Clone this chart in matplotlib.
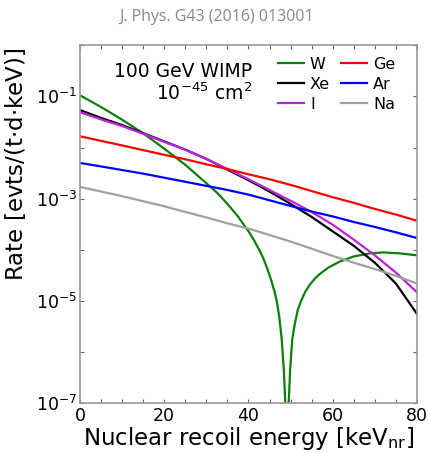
import math
import matplotlib
matplotlib.use("Agg")
import matplotlib.pyplot as plt
from matplotlib.ticker import FixedLocator, MultipleLocator, FuncFormatter

# recoil energies [keV_nr]
energy = [0, 5, 10, 15, 20, 25, 30, 35, 40, 45, 50, 55, 60, 65, 70, 75, 80]

# rates [evts/(t d keV)]
rate_xe = [5.4e-2, 3.8e-2, 2.75e-2, 1.91e-2, 1.32e-2, 9.1e-3, 6.0e-3, 3.7e-3, 2.3e-3,
           1.38e-3, 7.9e-4, 4.4e-4, 2.3e-4, 1.2e-4, 5.6e-5, 2.2e-5, 5.6e-6]
rate_i = [4.9e-2, 3.55e-2, 2.63e-2, 1.86e-2, 1.29e-2, 9.1e-3, 6.0e-3, 3.8e-3, 2.4e-3,
          1.48e-3, 9.1e-4, 5.5e-4, 3.1e-4, 1.58e-4, 7.8e-5, 3.6e-5, 1.48e-5]
rate_ge = [1.66e-2, 1.35e-2, 1.10e-2, 8.9e-3, 7.2e-3, 5.9e-3, 4.7e-3, 3.8e-3, 3.0e-3,
           2.4e-3, 1.86e-3, 1.41e-3, 1.07e-3, 8.3e-4, 6.3e-4, 4.9e-4, 3.7e-4]
rate_ar = [5.0e-3, 4.27e-3, 3.63e-3, 3.09e-3, 2.57e-3, 2.14e-3, 1.78e-3, 1.48e-3, 1.20e-3,
           9.3e-4, 7.2e-4, 5.6e-4, 4.5e-4, 3.5e-4, 2.8e-4, 2.2e-4, 1.7e-4]
rate_na = [1.70e-3, 1.38e-3, 1.12e-3, 8.9e-4, 7.1e-4, 5.5e-4, 4.3e-4, 3.3e-4, 2.6e-4,
           1.95e-4, 1.45e-4, 1.05e-4, 7.6e-5, 5.6e-5, 4.2e-5, 3.1e-5, 2.2e-5]

# tungsten has a form factor zero near 49 keV, so it gets its own finer grid
energy_w = [0, 5, 10, 15, 20, 25, 30, 32.5, 35, 37.5, 40, 41.25, 42.5, 43.5, 44.5, 45.5,
            46.2, 46.7, 47.3, 47.9, 48.4, 48.8, 49.15, 49.5, 49.9, 50.4, 51.0, 51.7, 52.6,
            53.5, 54.6, 55.8, 57, 59, 61.7, 65, 68.8, 72, 76, 80]
rate_w = [1.05e-1, 6.2e-2, 3.5e-2, 1.9e-2, 9.5e-3, 4.6e-3, 2.0e-3, 1.32e-3, 7.9e-4,
          4.5e-4, 2.3e-4, 1.58e-4, 1.02e-4, 6.9e-5, 4.2e-5, 2.4e-5, 1.51e-5, 1.02e-5,
          5.0e-6, 1.78e-6, 4.5e-7, 8.0e-8, 1e-9, 8.0e-8, 4.5e-7, 1.78e-6, 3.5e-6, 6.6e-6,
          1.05e-5, 1.51e-5, 2.1e-5, 2.75e-5, 3.4e-5, 4.5e-5, 5.9e-5, 7.4e-5, 8.5e-5,
          8.9e-5, 8.5e-5, 7.8e-5]

fig = plt.figure(figsize=(4.28, 4.53), dpi=100)
ax = fig.add_axes([0.187, 0.110, 0.787, 0.790])

lw = 1.6
ax.plot(energy_w, rate_w, color='#0a800a', lw=lw, label='W')
ax.plot(energy, rate_xe, color='black', lw=lw, label='Xe')
ax.plot(energy, rate_i, color='#c020e0', lw=lw, label='I')
ax.plot(energy, rate_ge, color='#ff0000', lw=lw, label='Ge')
ax.plot(energy, rate_ar, color='#0000ff', lw=lw, label='Ar')
ax.plot(energy, rate_na, color='#a0a0a0', lw=lw, label='Na')

ax.set_yscale('log')
ax.set_xlim(0, 80)
ax.set_ylim(1e-7, 1)

ax.xaxis.set_major_locator(MultipleLocator(20))
ax.xaxis.set_minor_locator(MultipleLocator(5))
ax.yaxis.set_major_locator(FixedLocator([10.0 ** k for k in range(-7, 1)]))
ax.yaxis.set_minor_locator(FixedLocator([]))


def ylab(v, pos):
    k = int(round(math.log10(v)))
    if k % 2 == 0:
        return ''
    return r'10$^{%d}$' % k


ax.yaxis.set_major_formatter(FuncFormatter(ylab))

ax.tick_params(which='both', direction='in', top=True, right=True, color='#666666',
               labelsize=12.5, length=3, width=0.8)
ax.tick_params(axis='x', pad=3)
ax.tick_params(axis='y', pad=2)
for s in ax.spines.values():
    s.set_color('#999999')
    s.set_linewidth(1.2)

ax.set_xlabel(r'Nuclear recoil energy [keV$_{\rm nr}$]', fontsize=16.5, labelpad=0)
ax.set_ylabel(r'Rate [evts/(t$\cdot$d$\cdot$keV)]', fontsize=16.5)
ax.yaxis.set_label_coords(-0.155, 0.668)

ax.text(0.512, 0.928, '100 GeV WIMP', transform=ax.transAxes, ha='right', va='center',
        fontsize=13.5)
ax.text(0.512, 0.866, r'10$^{-45}$ cm$^2$', transform=ax.transAxes, ha='right', va='center',
        fontsize=13.5)

ax.legend(ncol=2, frameon=False, loc='upper left', bbox_to_anchor=(0.564, 0.99),
          fontsize=11.5, handlelength=1.6, handletextpad=0.4, columnspacing=0.7,
          labelspacing=0.32, borderpad=0)

fig.text(0.507, 0.963, 'J. Phys. G43 (2016) 013001', ha='center', va='center',
         fontsize=11.5, color='#888888', family='Open Sans')

fig.savefig('out.png', dpi=100)
